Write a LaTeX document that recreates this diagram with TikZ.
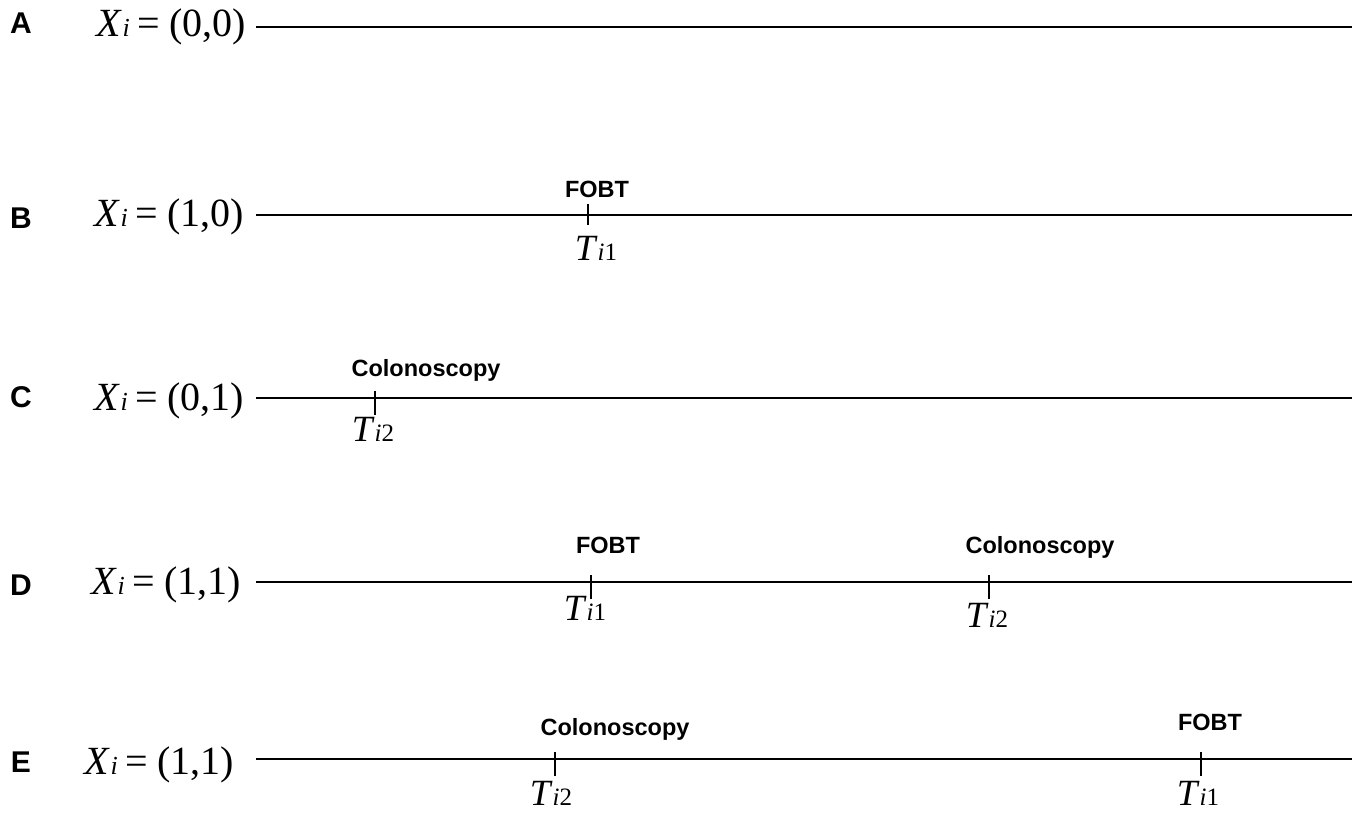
\documentclass[tikz,border=0pt]{standalone}
\usepackage{fontspec}
\setmainfont{Liberation Serif}
\setsansfont{Liberation Sans}
\tikzset{
  rowlabel/.style={font=\sffamily\bfseries\fontsize{30}{30}\selectfont, inner sep=0pt},
  eqn/.style={font=\fontsize{40}{40}\selectfont, inner sep=0pt, anchor=base east},
  testlabel/.style={font=\sffamily\bfseries\fontsize{23.5}{23.5}\selectfont, inner sep=0pt, anchor=base},
  timelabel/.style={font=\fontsize{37}{37}\selectfont, inner sep=0pt, anchor=base},
  timeline/.style={line width=1.6pt, black},
  tickmark/.style={line width=1.4pt, black}
}
\newcommand{\Xeq}[1]{\textit{X}{\fontsize{26}{26}\selectfont\textit{i}}\hspace{0.2em}=\hspace{0.22em}(#1)}
\newcommand{\Tlab}[1]{\textit{T}{\fontsize{25}{25}\selectfont\textit{i}#1}}
\begin{document}
\begin{tikzpicture}[x=1pt,y=-1pt]
\useasboundingbox (0,0) rectangle (1360,813);
% Row A
\node[rowlabel] (la) at (21,23) {A};
\node[eqn] (ea) at (246,37) {\Xeq{0,0}};
\coordinate (sa) at (256,27); \coordinate (fa) at (1352,27);
\draw[timeline] (sa) -- (fa);
% Row B
\node[rowlabel] (lb) at (21,218) {B};
\node[eqn] (eb) at (244,227) {\Xeq{1,0}};
\coordinate (sb) at (256,215); \coordinate (fb) at (1352,215);
\draw[timeline] (sb) -- (fb);
\coordinate (tb1) at (588,215);
\draw[tickmark] ([yshift=-10pt]tb1) -- ([yshift=11pt]tb1);
\node[testlabel] (fobtb) at (597,198) {FOBT};
\node[timelabel] (tib1) at (596,261) {\Tlab{1}};
% Row C
\node[rowlabel] (lc) at (21,397) {C};
\node[eqn] (ec) at (244,410) {\Xeq{0,1}};
\coordinate (sc) at (256,398); \coordinate (fc) at (1352,398);
\draw[timeline] (sc) -- (fc);
\coordinate (tc2) at (375,398);
\draw[tickmark] ([yshift=-17pt]tc2) -- ([yshift=7pt]tc2);
\node[testlabel] (colc) at (426,376) {Colonoscopy};
\node[timelabel] (tic2) at (373,441) {\Tlab{2}};
% Row D
\node[rowlabel] (ld) at (21,585) {D};
\node[eqn] (ed) at (241,594) {\Xeq{1,1}};
\coordinate (sd) at (256,582); \coordinate (fd) at (1352,582);
\draw[timeline] (sd) -- (fd);
\coordinate (td1) at (591,582);
\draw[tickmark] ([yshift=-17pt]td1) -- ([yshift=7pt]td1);
\node[testlabel] (fobtd) at (608,553) {FOBT};
\node[timelabel] (tid1) at (585,620) {\Tlab{1}};
\coordinate (td2) at (989,582);
\draw[tickmark] ([yshift=-17pt]td2) -- ([yshift=7pt]td2);
\node[testlabel] (cold) at (1040,553) {Colonoscopy};
\node[timelabel] (tid2) at (987,627) {\Tlab{2}};
% Row E
\node[rowlabel] (le) at (21,762) {E};
\node[eqn] (ee) at (234,774) {\Xeq{1,1}};
\coordinate (se) at (256,759); \coordinate (fe) at (1352,759);
\draw[timeline] (se) -- (fe);
\coordinate (te2) at (555,759);
\draw[tickmark] ([yshift=-17pt]te2) -- ([yshift=7pt]te2);
\node[testlabel] (cole) at (615,735) {Colonoscopy};
\node[timelabel] (tie2) at (551,805) {\Tlab{2}};
\coordinate (te1) at (1201,759);
\draw[tickmark] ([yshift=-17pt]te1) -- ([yshift=7pt]te1);
\node[testlabel] (fobte) at (1210,730) {FOBT};
\node[timelabel] (tie1) at (1198,805) {\Tlab{1}};
\end{tikzpicture}
\end{document}
